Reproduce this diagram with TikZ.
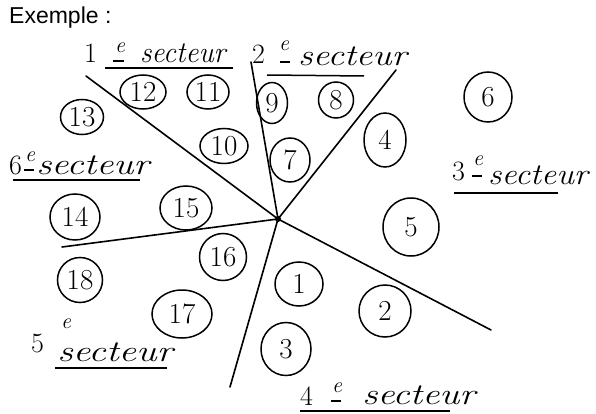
\documentclass[tikz,border=0pt]{standalone}
\usepackage{fontspec}
\newfontfamily\arialf{Liberation Sans}
\usetikzlibrary{shapes.geometric}
\begin{document}
\begin{tikzpicture}[x=1pt,y=-1pt,
  ray/.style={line width=1.6pt, line cap=round},
  num/.style={draw, ellipse, line width=1.5pt, inner sep=0pt,
    font=\fontsize{29}{29}\selectfont},
  hand/.style={inner sep=0pt, anchor=base west,
    font=\fontsize{30}{30}\selectfont\itshape},
  bignum/.style={inner sep=0pt, anchor=base west,
    font=\fontsize{28}{28}\selectfont},
  sup/.style={inner sep=0pt, anchor=base west,
    font=\fontsize{22}{22}\selectfont\itshape},
  uline/.style={line width=1.5pt}]
\useasboundingbox[fill=white] (0,0) rectangle (596,414);

% title
\node[inner sep=0pt, anchor=base west, font=\arialf\fontsize{23}{23}\selectfont] (title) at (9,24) {Exemple :};

% centre and rays
\coordinate (c) at (278,219);
\coordinate (e1) at (86,76);
\coordinate (e2) at (251,62);
\coordinate (e3) at (396,70);
\coordinate (e4) at (491,330);
\coordinate (e5) at (230,387);
\coordinate (e6) at (62,247);
\foreach \e in {e1,e2,e3,e4,e5,e6} \draw[ray] (c) -- (\e);
\fill (c) circle (3pt);

% numbered circles
\node[num, minimum width=46pt, minimum height=34pt] (n12) at (143,92) {12};
\node[num, minimum width=42pt, minimum height=34pt] (n11) at (208,92) {11};
\node[num, minimum width=31pt, minimum height=41pt] (n9) at (272,103) {9};
\node[num, minimum width=35pt, minimum height=36pt] (n8) at (336,100) {8};
\node[num, minimum width=43pt, minimum height=35pt] (n13) at (82,117) {13};
\node[num, minimum width=48pt, minimum height=35pt] (n10) at (224,146) {10};
\node[num, minimum width=40pt, minimum height=44pt] (n7) at (290,160) {7};
\node[num, minimum width=42pt, minimum height=54pt] (n4) at (385,140) {4};
\node[num, minimum width=48pt, minimum height=50pt] (n6) at (488,97) {6};
\node[num, minimum width=56pt, minimum height=58pt] (n5) at (411,227) {5};
\node[num, minimum width=52pt, minimum height=44pt] (n15) at (186,208) {15};
\node[num, minimum width=50pt, minimum height=46pt] (n14) at (75,217) {14};
\node[num, minimum width=47pt, minimum height=47pt] (n16) at (223,257) {16};
\node[num, minimum width=45pt, minimum height=45pt] (n18) at (80,280) {18};
\node[num, minimum width=60pt, minimum height=48pt] (n17) at (182,314) {17};
\node[num, minimum width=48pt, minimum height=44pt] (n1) at (299,284) {1};
\node[num, minimum width=50pt, minimum height=53pt] (n3) at (286,349) {3};
\node[num, minimum width=52pt, minimum height=52pt] (n2) at (385,311) {2};

% 1er secteur
\node[bignum] (l1n) at (84,63) {1};
\node[sup] (l1e) at (115,53) {e};
\draw[uline] (113,61) -- (124,61);
\node[hand, xscale=0.96] (l1s) at (140,63) {secteur};
\draw[uline] (105,68) -- (233,68);

% 2e secteur
\node[bignum] (l2n) at (252,64) {2};
\node[sup] (l2e) at (279,51) {e};
\draw[uline] (280,62) -- (290,62);
\node[hand, xscale=1.22] (l2s) at (298,66) {secteur};
\draw[uline] (267,75) -- (364,76);

% 3e secteur
\node[bignum] (l3n) at (452,180) {3};
\node[sup] (l3e) at (473,165) {e};
\draw[uline] (472,176) -- (482,176);
\node[hand, xscale=1.12] (l3s) at (488,184) {secteur};
\draw[uline] (454,193) -- (558,193);

% 4e secteur
\node[bignum] (l4n) at (300,405) {4};
\node[sup] (l4e) at (332,392) {e};
\draw[uline] (331,401) -- (341,401);
\node[hand, xscale=1.27] (l4s) at (362,404) {secteur};
\draw[uline] (300,411) -- (450,411);

% 5e secteur
\node[bignum] (l5n) at (31,352) {5};
\node[sup] (l5e) at (61,328) {e};
\node[hand, xscale=1.3] (l5s) at (57,361) {secteur};
\draw[uline] (55,368) -- (167,368);

% 6e secteur
\node[bignum] (l6n) at (9,174) {6};
\node[sup] (l6e) at (25,161) {e};
\draw[uline] (24,170) -- (34,170);
\node[hand, xscale=1.27] (l6s) at (36,174) {secteur};
\draw[uline] (13,180) -- (140,180);
\end{tikzpicture}
\end{document}
